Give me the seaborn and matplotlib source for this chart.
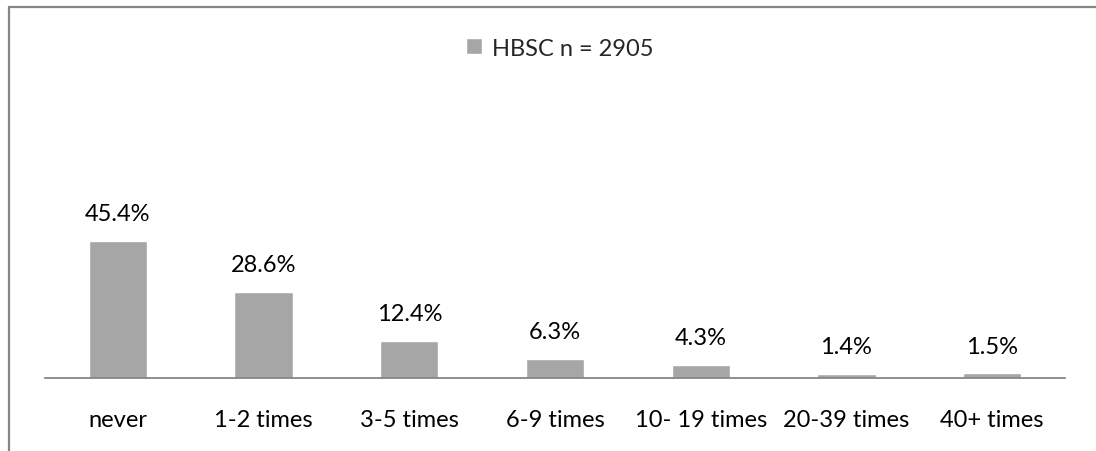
import matplotlib
matplotlib.use("Agg")
import matplotlib.pyplot as plt
from matplotlib.lines import Line2D
import seaborn as sns
import pandas as pd

# Frequency categories and share of respondents (%)
categories = ["never", "1-2 times", "3-5 times", "6-9 times",
              "10- 19 times", "20-39 times", "40+ times"]
percent = [45.4, 28.6, 12.4, 6.3, 4.3, 1.4, 1.5]
series_label = "HBSC n = 2905"

sns.set_theme(style="white")
plt.rcParams["font.family"] = ["Lato", "DejaVu Sans"]

W, H = 1096, 452
FS = 17
fig = plt.figure(figsize=(W / 100, H / 100), dpi=100)
ax = fig.add_axes([45 / W, (H - 379) / H, (1065 - 45) / W, (379 - 77) / H])

df = pd.DataFrame({"category": categories, "percent": percent})
sns.barplot(data=df, x="category", y="percent", color="#A6A6A6",
            saturation=1, width=0.4, label=series_label, ax=ax)

ax.set_ylim(0, 100)
ax.set_xlim(-0.5, len(categories) - 0.5)
ax.set_xlabel("")
ax.set_ylabel("")
ax.set_yticks([])
ax.tick_params(axis="x", length=0, labelsize=FS, pad=22, colors="black")
for side in ("top", "right", "left"):
    ax.spines[side].set_visible(False)
ax.spines["bottom"].set_color("#868686")
ax.spines["bottom"].set_linewidth(1.3)

ax.bar_label(ax.containers[0], labels=[f"{v:.1f}%" for v in percent],
             padding=12, fontsize=FS, color="black")

leg = ax.legend(loc="center", bbox_to_anchor=(560 / W, (H - 49) / H),
                bbox_transform=fig.transFigure, frameon=False, fontsize=FS,
                handlelength=0.65, handleheight=0.65, handletextpad=0.45)

# Chart frame (top and left edges)
fx = 8.5 / W
fy = (H - 7.5) / H
fig.add_artist(Line2D([fx, fx], [0, fy], transform=fig.transFigure,
                      color="#868686", lw=1.6))
fig.add_artist(Line2D([fx, 1], [fy, fy], transform=fig.transFigure,
                      color="#868686", lw=1.6))

fig.savefig("out.png", dpi=100, facecolor="white")
